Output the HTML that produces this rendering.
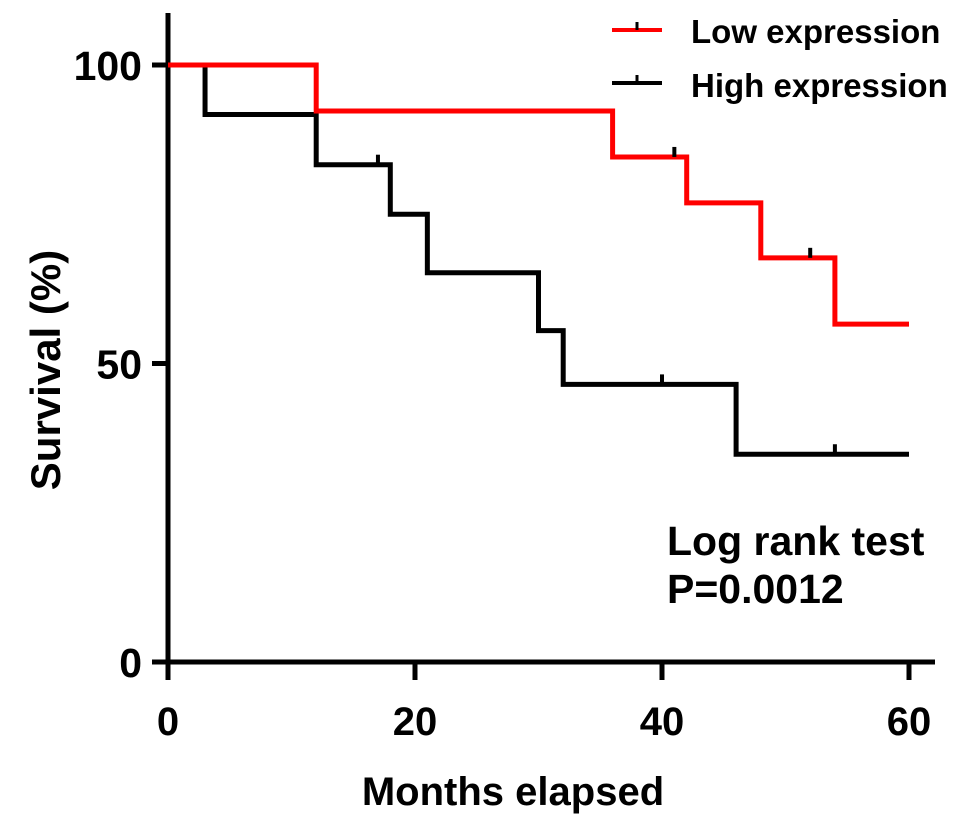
<!DOCTYPE html>
<html><head><meta charset="utf-8"><style>
body{margin:0;background:#fff}
svg{display:block;font-family:"Liberation Sans",Arial,sans-serif;font-weight:bold}
</style></head><body>
<svg id="c" width="969" height="829" viewBox="0 0 969 829"></svg>
<script>
const xTicks=[0,20,40,60];
const yTicks=[0,50,100];
const lowTimes=[0,12,36,42,48,54,60];
const lowSurv=[100,92.3,84.6,76.9,67.7,56.6,56.6];
const highTimes=[0,3,12,18,21,30,32,46,60];
const highSurv=[100,91.7,83.3,75,65.2,55.5,46.5,34.8,34.8];
const lowCensorT=[41,52];
const lowCensorS=[84.6,67.7];
const highCensorT=[17,40,54];
const highCensorS=[83.3,46.5,34.8];
const NS='http://www.w3.org/2000/svg';
const svg=document.getElementById('c');
const X=v=>168+v*(909-168)/60;
const Y=v=>662-v*(662-65)/100;
function mk(t,a,p){const e=document.createElementNS(NS,t);for(const k in a)e.setAttribute(k,a[k]);(p||svg).appendChild(e);return e;}
function txt(s,a){const e=mk('text',a);e.textContent=s;return e;}
let e;
e=mk('line',{x1:168,y1:13,x2:168,y2:662,stroke:'#000','stroke-width':5});


e=mk('line',{x1:166,y1:662,x2:935,y2:662,stroke:'#000','stroke-width':5});


xTicks.forEach(v=>{
 e=mk('line',{x1:X(v),y1:662,x2:X(v),y2:680,stroke:'#000','stroke-width':5});
 
 
 e=txt(String(v),{x:X(v),y:735,'text-anchor':'middle','font-size':40});
 
 
});
yTicks.forEach(v=>{
 e=mk('line',{x1:152,y1:Y(v),x2:168,y2:Y(v),stroke:'#000','stroke-width':5});
 
 
 e=txt(String(v),{x:142,y:Y(v)+15,'text-anchor':'end','font-size':41});
 
 
});
e=txt('Months elapsed',{x:513,y:805,'text-anchor':'middle','font-size':40});


e=txt('Survival (%)',{x:0,y:0,'text-anchor':'middle','font-size':42,transform:'translate(60,370) rotate(-90)'});


function stepPath(ts,ss){let d='M'+X(ts[0])+' '+Y(ss[0]);for(let i=1;i<ts.length;i++){d+=' H'+X(ts[i]);d+=' V'+Y(ss[i]);}return d;}
e=mk('path',{d:stepPath(highTimes,highSurv),fill:'none',stroke:'#000','stroke-width':5});


e=mk('path',{d:stepPath(lowTimes,lowSurv),fill:'none',stroke:'#f00','stroke-width':5});


lowCensorT.forEach((t,i)=>{
 e=mk('line',{x1:X(t),y1:Y(lowCensorS[i]),x2:X(t),y2:Y(lowCensorS[i])-10,stroke:'#000','stroke-width':4});
 
 
});
highCensorT.forEach((t,i)=>{
 e=mk('line',{x1:X(t),y1:Y(highCensorS[i]),x2:X(t),y2:Y(highCensorS[i])-10,stroke:'#000','stroke-width':4});
 
 
});
e=mk('line',{x1:612,y1:30,x2:662,y2:30,stroke:'#f00','stroke-width':4});


mk('line',{x1:637,y1:30,x2:637,y2:22,stroke:'#000','stroke-width':3});
e=txt('Low expression',{x:691,y:43,'font-size':33});


e=mk('line',{x1:612,y1:83,x2:662,y2:83,stroke:'#000','stroke-width':4});


mk('line',{x1:637,y1:83,x2:637,y2:75,stroke:'#000','stroke-width':3});
e=txt('High expression',{x:691,y:97,'font-size':33});


e=txt('Log rank test',{x:667,y:555,'font-size':41});


e=txt('P=0.0012',{x:667,y:603,'font-size':41});


</script>
</body></html>
